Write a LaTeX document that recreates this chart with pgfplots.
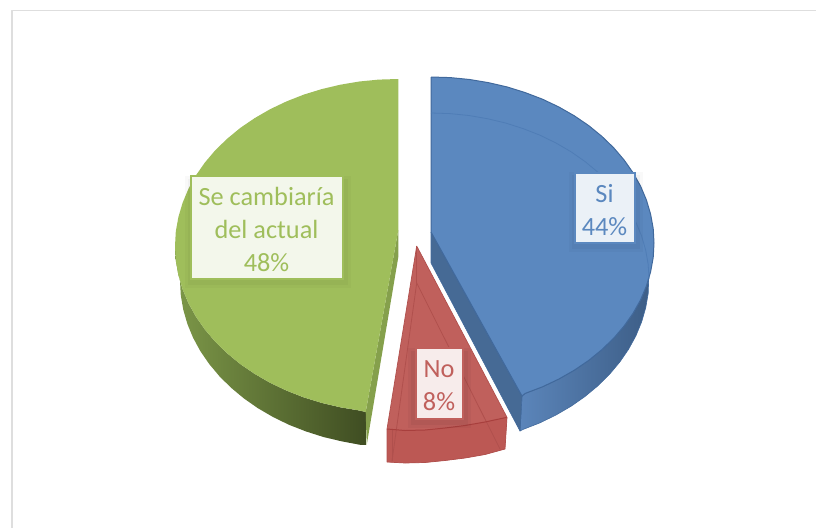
\documentclass[border=0pt]{standalone}
\usepackage{fontspec}
\setmainfont{Carlito}
\usepackage{pgfplots}
\pgfplotsset{compat=1.18}
\definecolor{bluetop}{HTML}{5B88BF}
\definecolor{blueedge}{HTML}{41699C}
\definecolor{blueghost}{HTML}{4F7DB6}
\definecolor{bluecut}{HTML}{466A95}
\definecolor{bluea}{HTML}{5B85BA}
\definecolor{blueb}{HTML}{4F77A8}
\definecolor{bluec}{HTML}{3D5E87}
\definecolor{greentop}{HTML}{9FBE5B}
\definecolor{greencut}{HTML}{85A04C}
\definecolor{greena}{HTML}{7C9748}
\definecolor{greenb}{HTML}{5D7336}
\definecolor{greenc}{HTML}{3F4D22}
\definecolor{redtop}{HTML}{C0605C}
\definecolor{redwall}{HTML}{BC5854}
\definecolor{redline}{HTML}{A83F3D}
\definecolor{redghost}{HTML}{B0504D}
\definecolor{frame}{HTML}{DEDEDE}
\begin{document}
\begin{tikzpicture}
\begin{axis}[
  scale only axis, width=816pt, height=528pt,
  xmin=0, xmax=816, ymin=0, ymax=528, y dir=reverse,
  hide axis, clip=true,
  every axis plot/.append style={no markers, line join=round},
]
% frame
\addplot[draw=frame, line width=1.2pt] coordinates {(816,10.5) (12,10.5) (12,528)};
% green wall
\addplot[draw=none, left color=greena, middle color=greenb, right color=greenc] coordinates {
(175,246)(175.8,260.6)(178.4,275)(182.6,289.2)(188.4,303.1)(195.9,316.6)(204.9,329.5)(215.3,341.8)(227.2,353.3)(240.3,364.1)(254.7,373.9)(270.1,382.8)(286.5,390.6)(303.8,397.4)(321.7,402.9)(340.3,407.3)(359.3,410.5)(366,412)
(366.7,445)(360.1,444.8)(341.6,441.3)(323.4,437)(305.9,431.4)(289,424.8)(273,417)(257.9,408.2)(243.9,398.4)(231,387.7)(219.4,376.2)(209.2,364)(200.4,351.2)(193.1,337.8)(187.4,324)(183.3,309.8)(180.8,295.5)(180,281)(175,246)};
% green cut wall
\addplot[draw=none, fill=greencut] coordinates {(398.3,230)(398.3,257)(366.7,445)(365.7,412)(398.3,230)};
% green top
\addplot[draw=none, fill=greentop] coordinates {
(398.3,79)(378.6,79.6)(359.3,81.5)(340.3,84.7)(321.7,89.1)(303.8,94.6)(286.5,101.4)(270.1,109.2)(254.7,118.1)(240.3,127.9)(227.2,138.7)(215.3,150.2)(204.9,162.5)(195.9,175.4)(188.4,188.9)(182.6,202.8)(178.4,217)(175.8,231.4)(175,246)
(175.8,260.6)(178.4,275)(182.6,289.2)(188.4,303.1)(195.9,316.6)(204.9,329.5)(215.3,341.8)(227.2,353.3)(240.3,364.1)(254.7,373.9)(270.1,382.8)(286.5,390.6)(303.8,397.4)(321.7,402.9)(340.3,407.3)(359.3,410.5)(365.7,412)(398.3,230)(398.3,79)};
% red silhouette
\addplot[draw=none, fill=redtop] coordinates {
(416.7,246)(387,429)(387,462)(405,463)(425,462.5)(445,460.5)(465,458)(485,454.5)(505,449)(507,417.3)(416.7,246)};
% red front wall
\addplot[draw=none, fill=redwall] coordinates {
(387,429)(405,430.5)(425,430)(445,428)(465,425.5)(485,422)(507,417.3)(505,449)(485,454.5)(465,458)(445,460.5)(425,462.5)(405,463)(387,462)(387,429)};
% red ghost lines
\addplot[draw=redghost, line width=0.8pt] coordinates {(416.7,246)(416.7,283)};
\addplot[draw=redghost, line width=0.8pt] coordinates {(392,461)(416.7,283)(500,449)};
\addplot[draw=redghost, line width=0.8pt] coordinates {(392,430)(392,461)};
% red edges
\addplot[draw=redline, line width=1pt] coordinates {(387,429)(405,430.5)(425,430)(445,428)(465,425.5)(485,422)(507,417.3)};
\addplot[draw=redghost, line width=0.7pt] coordinates {(416.7,246)(387,429)(387,462)(405,463)(425,462.5)(445,460.5)(465,458)(485,454.5)(505,449)(507,417.3)(416.7,246)};
% blue wall
\addplot[draw=blueedge, line width=0.6pt, left color=bluea, middle color=blueb, right color=bluec] coordinates {
(522,396)(525.2,393.4)(542.5,386.8)(558.9,379)(574.3,370.2)(588.7,360.4)(601.8,349.7)(613.7,338.2)(624.1,326)(633.1,313.2)(640.6,299.8)(646.4,286)(648.7,279)
(648.2,293.5)(645.7,307.8)(641.6,322)(635.9,335.8)(628.6,349.2)(619.8,362)(609.6,374.2)(598,385.7)(585.1,396.4)(571.1,406.2)(556,415)(540,422.8)(523.1,429.4)(520,431)(522,396)};
% blue cut wall
\addplot[draw=blueedge, line width=0.6pt, fill=bluecut] coordinates {(431,232)(431,263)(520,431)(522,396)(431,232)};
% blue top
\addplot[draw=blueedge, line width=1pt, fill=bluetop] coordinates {
(431,77)(450.4,77.6)(469.7,79.5)(488.7,82.7)(507.3,87)(525.2,92.6)(542.5,99.2)(558.9,107)(574.3,115.8)(588.7,125.6)(601.8,136.3)(613.7,147.8)(624.1,160)(633.1,172.8)(640.6,186.2)(646.4,200)(650.6,214.2)(653.2,228.5)(654,243)
(653.2,257.5)(650.6,271.8)(646.4,286)(640.6,299.8)(633.1,313.2)(624.1,326)(613.7,338.2)(601.8,349.7)(588.7,360.4)(574.3,370.2)(558.9,379)(542.5,386.8)(525.2,393.4)(522,396)(431,232)(431,77)};
% blue ghost arc
\addplot[draw=blueghost, line width=0.8pt] coordinates {
(431,113)(450,113.6)(468.9,115.5)(487.4,118.7)(505.6,123)(523.1,128.6)(540,135.2)(556,143)(571.1,151.8)(585.1,161.6)(598,172.3)(609.6,183.8)(619.8,196)(628.6,208.8)(635.9,222.2)(641.6,236)(645.7,250.2)(648.2,264.5)(649,279)};
% label shadows
\fill[black, opacity=0.025] (axis cs:569,172) rectangle (axis cs:643,252);
\fill[black, opacity=0.03] (axis cs:572,175) rectangle (axis cs:640,249);
\fill[black, opacity=0.025] (axis cs:185,176) rectangle (axis cs:351,288);
\fill[black, opacity=0.03] (axis cs:188,179) rectangle (axis cs:348,285);
\fill[black, opacity=0.03] (axis cs:408,348) rectangle (axis cs:471,428);
\fill[black, opacity=0.04] (axis cs:411,351) rectangle (axis cs:468,425);
% label boxes
\node[draw=bluetop, line width=2pt, fill=white!88!bluetop, inner sep=0pt,
  minimum width=60pt, minimum height=70pt] at (axis cs:604.5,207.5) {};
\node[draw=greentop, line width=2pt, fill=white!88!greentop, inner sep=0pt,
  minimum width=152pt, minimum height=103pt] at (axis cs:266.5,227) {};
\node[draw=redtop, line width=2pt, fill=white!88!redtop, inner sep=0pt,
  minimum width=47pt, minimum height=71pt] at (axis cs:439,383.5) {};
% label texts
\node[text=bluetop, align=center, inner sep=0pt, font=\fontsize{26.3}{33}\selectfont]
  at (axis cs:604.5,210) {Si\\44\%};
\node[text=greentop, align=center, inner sep=0pt, font=\fontsize{26.3}{33}\selectfont]
  at (axis cs:266.5,229) {Se cambiaría\\del actual\\48\%};
\node[text=redtop, align=center, inner sep=0pt, font=\fontsize{26.3}{33}\selectfont]
  at (axis cs:439,386) {No\\8\%};
\end{axis}
\path[use as bounding box] (0,0) rectangle (816pt,528pt);
\end{tikzpicture}
\end{document}
